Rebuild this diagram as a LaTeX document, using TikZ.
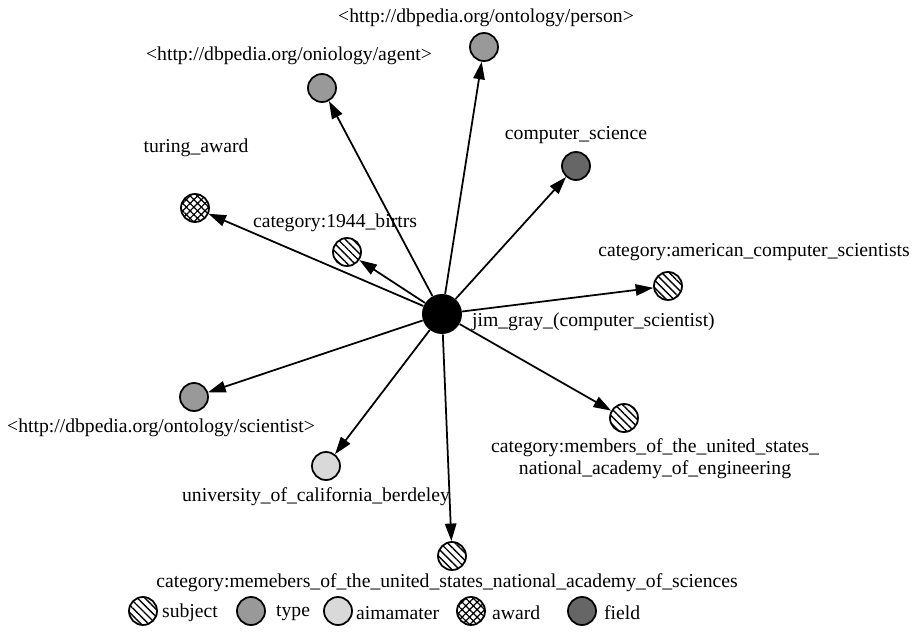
\documentclass[tikz,border=0pt]{standalone}
\usepackage{fontspec}
\setmainfont{Liberation Serif}
\usetikzlibrary{arrows.meta}
\usetikzlibrary{patterns.meta}

\definecolor{typegray}{gray}{0.6}
\definecolor{almagray}{gray}{0.85}
\definecolor{fieldgray}{gray}{0.4}

\tikzset{
  ent/.style={circle,draw=black,line width=1pt,minimum size=0.56cm,inner sep=0pt},
  subj/.style={ent,pattern={Lines[angle=-45,distance=3pt,line width=0.8pt]}},
  typ/.style={ent,fill=typegray},
  alma/.style={ent,fill=almagray},
  awd/.style={ent,pattern={Hatch[angle=45,distance=3pt,line width=0.7pt]}},
  fld/.style={ent,fill=fieldgray},
  hub/.style={circle,fill=black,minimum size=0.8cm,inner sep=0pt},
  lbl/.style={inner sep=1pt,font=\fontsize{11.2}{12.5}\selectfont},
  rel/.style={line width=1pt,-{Triangle[length=10pt,width=6.5pt]}}
}

\begin{document}
\begin{tikzpicture}[x=0.02cm,y=-0.02cm]

\useasboundingbox (0,0) rectangle (914,632);

% centre
\node[hub] (jim) at (442,314) {};
\node[lbl,anchor=west] (jimlbl) at (470,322) {jim\_gray\_(computer\_scientist)};

% entities
\node[typ]  (person)   at (484,47)  {};
\node[typ]  (agent)    at (322,88)  {};
\node[fld]  (compsci)  at (576,166) {};
\node[awd]  (turing)   at (195,208) {};
\node[subj] (birth)    at (347,252) {};
\node[subj] (amer)     at (668,286) {};
\node[typ]  (scient)   at (194,397) {};
\node[alma] (berkeley) at (326,466) {};
\node[subj] (engin)    at (624,418) {};
\node[subj] (sciences) at (452,556) {};

% labels
\node[lbl] (personlbl)   at (486,18)  {<http://dbpedia.org/ontology/person>};
\node[lbl] (agentlbl)    at (289,56)  {<http://dbpedia.org/oniology/agent>};
\node[lbl] (compscilbl)  at (576,135) {computer\_science};
\node[lbl] (turinglbl)   at (196,148) {turing\_award};
\node[lbl] (birthlbl)    at (335,223) {category:1944\_birtrs};
\node[lbl] (amerlbl)     at (754,252) {category:american\_computer\_scientists};
\node[lbl] (scientlbl)   at (161,428) {<http://dbpedia.org/ontology/scientist>};
\node[lbl] (berkeleylbl) at (316,497) {university\_of\_california\_berdeley};
\node[lbl,align=center] (enginlbl) at (655,459)
  {category:members\_of\_the\_united\_states\_\\national\_academy\_of\_engineering};
\node[lbl] (scienceslbl) at (447,583) {category:memebers\_of\_the\_united\_states\_national\_academy\_of\_sciences};

% relations
\foreach \t in {person,agent,compsci,turing,birth,amer,scient,berkeley,engin,sciences}
  \draw[rel] (jim) -- (\t);

% legend
\node[subj] (legsubj) at (143,611) {};
\node[lbl,anchor=west] (legsubjlbl) at (160,613) {subject};
\node[typ]  (legtyp)  at (251,611) {};
\node[lbl,anchor=west] (legtyplbl) at (274,613) {type};
\node[alma] (legalma) at (338,611) {};
\node[lbl,anchor=west] (legalmalbl) at (354,613) {aimamater};
\node[awd]  (legawd)  at (471,611) {};
\node[lbl,anchor=west] (legawdlbl) at (490,613) {award};
\node[fld]  (legfld)  at (582,611) {};
\node[lbl,anchor=west] (legfldlbl) at (602,613) {field};

\end{tikzpicture}
\end{document}
